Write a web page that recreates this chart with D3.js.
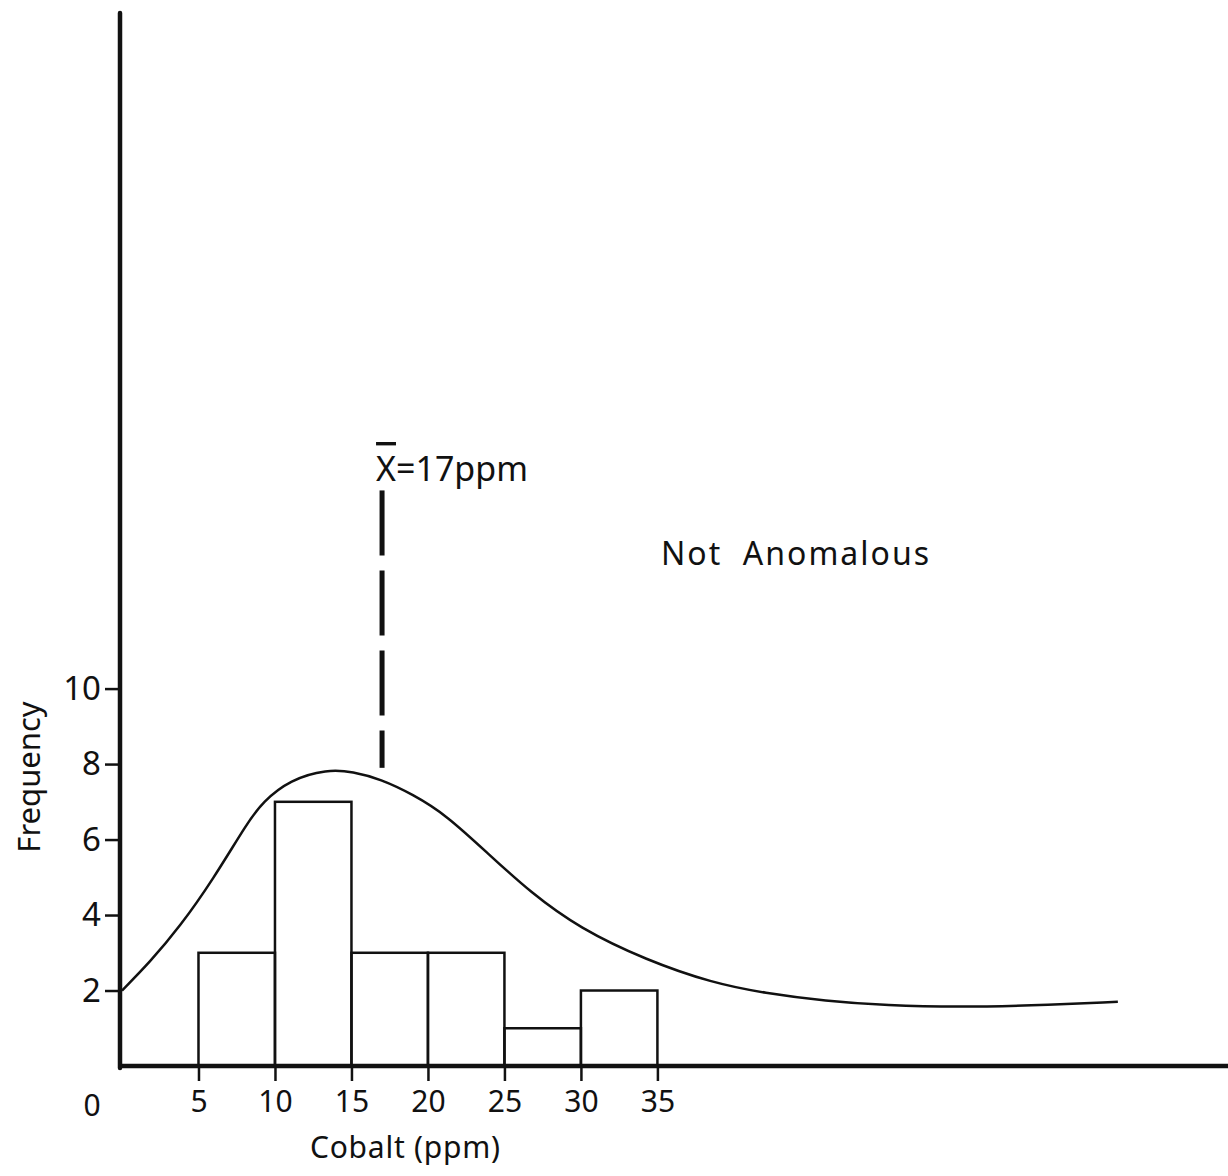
<!DOCTYPE html>
<html>
<head>
<meta charset="utf-8">
<script src="https://cdn.jsdelivr.net/npm/d3@7"></script>
<style>
  body { margin: 0; background: #fff; }
  svg { display: block; }
  text { font-family: "Noto Sans", "DejaVu Sans", sans-serif; fill: #111; }
</style>
</head>
<body>
<svg id="chart" width="1228" height="1176"></svg>
<script>
// histogram bins (ppm) and counts
const binStarts = [5, 10, 15, 20, 25, 30];
const binWidth = 5;
const counts = [3, 7, 3, 3, 1, 2];

// smooth frequency curve
const curveX = [0, 1.8, 3.8, 5.95, 8.2, 9.2, 11, 13.4, 15.1, 16.9, 19, 21.2, 24, 26.7, 29.9, 34.3, 38.6, 42, 46, 50, 54.8, 59.2, 65.1];
const curveY = [2.0, 2.74, 3.7, 4.94, 6.45, 7.0, 7.59, 7.86, 7.8, 7.6, 7.2, 6.65, 5.6, 4.6, 3.65, 2.8, 2.2, 1.93, 1.72, 1.6, 1.56, 1.6, 1.7];

const xTicks = [5, 10, 15, 20, 25, 30, 35];
const yTicks = [2, 4, 6, 8, 10];

const meanValue = 17;
const meanLabel = "17ppm";

const width = 1228, height = 1176;
const svg = d3.select("#chart");

const x = d3.scaleLinear().domain([0, 72.3]).range([122, 1228]);
const y = d3.scaleLinear().domain([0, 27.9]).range([1066, 13]);

// bars
svg.append("g")
  .selectAll("rect")
  .data(binStarts)
  .join("rect")
  .attr("x", d => x(d))
  .attr("y", (d, i) => y(counts[i]))
  .attr("width", d => x(d + binWidth) - x(d))
  .attr("height", (d, i) => y(0) - y(counts[i]))
  .attr("fill", "none")
  .attr("stroke", "#111")
  .attr("stroke-width", 2.5);

// curve
const line = d3.line()
  .x(d => x(d[0]))
  .y(d => y(d[1]))
  .curve(d3.curveBasis);

svg.append("path")
  .datum(d3.zip(curveX, curveY))
  .attr("d", line)
  .attr("fill", "none")
  .attr("stroke", "#111")
  .attr("stroke-width", 2.5);

// mean line
svg.append("line")
  .attr("x1", x(meanValue)).attr("x2", x(meanValue))
  .attr("y1", y(15.25)).attr("y2", y(7.9))
  .attr("stroke", "#111")
  .attr("stroke-width", 5)
  .attr("stroke-dasharray", "65,15");

const meanText = svg.append("text")
  .attr("x", x(meanValue) - 6)
  .attr("y", 481)
  .style("font-size", "34px");
meanText.append("tspan").text("X").style("text-decoration", "overline");
meanText.append("tspan").text("=" + meanLabel);

svg.append("text")
  .attr("x", 661)
  .attr("y", 565)
  .style("font-size", "32px")
  .attr("textLength", 268)
  .attr("lengthAdjust", "spacing")
  .attr("xml:space", "preserve")
  .text("Not  Anomalous");

// x axis
const xAxis = g => g
  .attr("transform", `translate(0,${y(0)})`)
  .call(d3.axisBottom(x).tickValues(xTicks).tickSize(15).tickPadding(10).tickFormat(d3.format("d")))
  .call(g => g.select(".domain").remove())
  .call(g => g.selectAll(".tick line").attr("stroke", "#111").attr("stroke-width", 2.5))
  .call(g => g.selectAll(".tick text").style("font-size", "30px").attr("fill", "#111"));

svg.append("g").call(xAxis);

svg.append("line")
  .attr("x1", x(0) - 2).attr("x2", width)
  .attr("y1", y(0)).attr("y2", y(0))
  .attr("stroke", "#111").attr("stroke-width", 4.5);

svg.append("text")
  .attr("x", x(0) - 30)
  .attr("y", y(0) + 50)
  .attr("text-anchor", "middle")
  .style("font-size", "30px")
  .text("0");

// y axis
const yAxis = g => g
  .attr("transform", `translate(${x(0) - 2},0)`)
  .call(d3.axisLeft(y).tickValues(yTicks).tickSize(15).tickPadding(4))
  .call(g => g.select(".domain").remove())
  .call(g => g.selectAll(".tick line").attr("stroke", "#111").attr("stroke-width", 2.5))
  .call(g => g.selectAll(".tick text").style("font-size", "33px").attr("fill", "#111"));

svg.append("g").call(yAxis);

svg.append("line")
  .attr("x1", x(0) - 2).attr("x2", x(0) - 2)
  .attr("y1", y.range()[1]).attr("y2", y(0) + 2)
  .attr("stroke", "#111").attr("stroke-width", 4.5)
  .attr("stroke-linecap", "round");

// axis titles
svg.append("text")
  .attr("transform", `translate(40,777) rotate(-90)`)
  .attr("text-anchor", "middle")
  .style("font-size", "31px")
  .text("Frequency");

svg.append("text")
  .attr("x", 405)
  .attr("y", 1158)
  .attr("text-anchor", "middle")
  .style("font-size", "30px")
  .attr("textLength", 190)
  .attr("lengthAdjust", "spacing")
  .text("Cobalt (ppm)");
</script>
</body>
</html>
